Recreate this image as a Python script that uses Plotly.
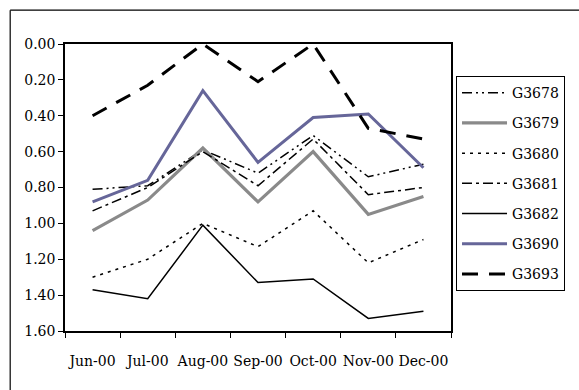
import plotly.graph_objects as go

months = ["Jun-00", "Jul-00", "Aug-00", "Sep-00", "Oct-00", "Nov-00", "Dec-00"]

g3678 = [0.81, 0.79, 0.59, 0.72, 0.51, 0.74, 0.67]
g3679 = [1.04, 0.87, 0.58, 0.88, 0.60, 0.95, 0.85]
g3680 = [1.30, 1.20, 1.00, 1.13, 0.93, 1.22, 1.09]
g3681 = [0.93, 0.80, 0.60, 0.79, 0.53, 0.84, 0.80]
g3682 = [1.37, 1.42, 1.01, 1.33, 1.31, 1.53, 1.49]
g3690 = [0.88, 0.76, 0.26, 0.66, 0.41, 0.39, 0.69]
g3693 = [0.40, 0.23, 0.00, 0.21, 0.00, 0.47, 0.53]

y_ticks = [0.0, 0.2, 0.4, 0.6, 0.8, 1.0, 1.2, 1.4, 1.6]

series = [
    ("G3678", g3678, dict(color="black", width=1.5, dash="10px,4px,2px,4px,2px,4px")),
    ("G3679", g3679, dict(color="#8a8a8a", width=3.2)),
    ("G3680", g3680, dict(color="black", width=1.5, dash="3px,5px")),
    ("G3681", g3681, dict(color="black", width=1.5, dash="10px,4px,3px,4px")),
    ("G3682", g3682, dict(color="black", width=1.5)),
    ("G3690", g3690, dict(color="#666699", width=3)),
    ("G3693", g3693, dict(color="black", width=3, dash="16px,11px")),
]

FONT = "DejaVu Serif"
SIZE = 14

fig = go.Figure()
for i, (name, vals, line) in enumerate(series):
    fig.add_trace(go.Scatter(
        x=months, y=vals, name=name, mode="lines", line=line,
        legendgroup=f"g{i}",
    ))

fig.update_layout(
    template="none",
    width=579, height=390,
    margin=dict(l=65, r=128, t=44, b=59),
    paper_bgcolor="white", plot_bgcolor="white",
    font=dict(family=FONT, size=SIZE, color="black"),
    showlegend=True,
    legend=dict(
        x=1.013, y=0.888, xanchor="left", yanchor="top",
        bordercolor="black", borderwidth=1,
        font=dict(family=FONT, size=SIZE, color="black"),
        tracegroupgap=9, itemwidth=45,
        bgcolor="white",
    ),
    xaxis=dict(
        type="category", range=[-0.5, 6.5], tickson="boundaries",
        ticks="outside", ticklen=5, tickangle=0,
        tickcolor="black", showline=True, linecolor="black", linewidth=1.5,
        mirror=True, showgrid=False, ticklabelstandoff=16,
        tickfont=dict(family=FONT, size=SIZE),
    ),
    yaxis=dict(
        range=[1.6, 0], tickvals=y_ticks, tickformat=".2f", ticks="outside",
        ticklen=5, tickcolor="black", showline=True, linecolor="black",
        linewidth=1.5, mirror=True, showgrid=False, zeroline=False,
        tickfont=dict(family=FONT, size=SIZE),
    ),
    shapes=[
        dict(type="line", xref="paper", yref="paper", x0=-0.142, x1=1.4,
             y0=1.118, y1=1.118, line=dict(color="black", width=1.2)),
        dict(type="line", xref="paper", yref="paper", x0=-0.142, x1=-0.142,
             y0=1.118, y1=-0.3, line=dict(color="black", width=1.2)),
    ],
)

fig.write_html("out.html")
